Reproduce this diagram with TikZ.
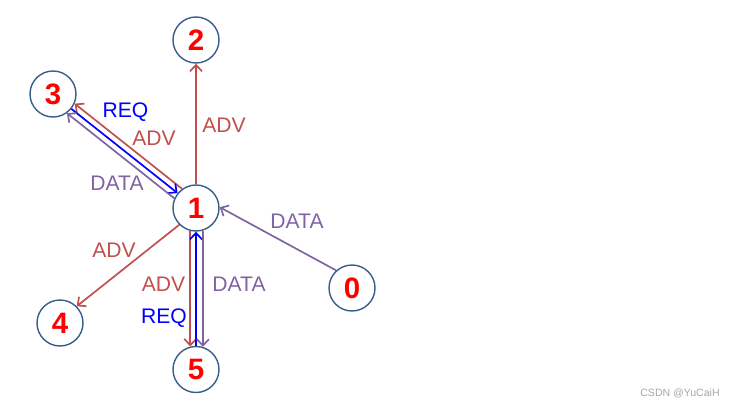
\documentclass[tikz,border=0pt]{standalone}
\usepackage{fontspec}
\setmainfont{Liberation Sans}
\usepackage{xcolor}
\usetikzlibrary{arrows.meta}

\definecolor{advred}{HTML}{C0504D}
\definecolor{datapurple}{HTML}{8064A2}
\definecolor{reqblue}{HTML}{0000FF}
\definecolor{ringblue}{HTML}{385D8A}

\begin{document}
\begin{tikzpicture}[
  peer/.style={circle, draw=ringblue, line width=1pt, minimum size=1.15cm, inner sep=0pt,
    text=red, font=\fontsize{21}{25}\selectfont\bfseries},
  msg/.style={line width=1.2pt, -{Straight Barb[length=1.6mm,width=3mm]}},
  lbl/.style={font=\fontsize{15}{18}\selectfont, inner sep=0pt}
]
\useasboundingbox (0,0) rectangle (18.45,10.15);

% peers
\node[peer] (n1) at (4.9,4.95) {1};
\node[peer] (n2) at (4.9,9.15) {2};
\node[peer] (n3) at (1.325,7.8) {3};
\node[peer] (n4) at (1.5,2.075) {4};
\node[peer] (n0) at (8.8,2.95) {0};
\node[peer] (n5) at (4.9,0.9125) {5};

% messages between 1 and 3
\draw[msg, advred] (n1.126) -- (n3.-24);
\draw[msg, reqblue] (n3.-39) -- (n1.141);
\draw[msg, datapurple] (n1.156) -- (n3.-54);

% messages between 1 and 5
\draw[msg, advred] (n1.256) -- (n5.104);
\draw[msg, reqblue] (n5.90) -- (n1.270);
\draw[msg, datapurple] (n1.287) -- (n5.73);

% other messages
\draw[msg, advred] (n1) -- (n2);
\draw[msg, advred] (n1.225) -- (n4.45);
\draw[msg, datapurple] (n0.132) -- (n1.2);

% labels
\node[lbl, text=reqblue] (req13) at (3.1375,7.35) {REQ};
\node[lbl, text=advred] (adv13) at (3.85,6.6875) {ADV};
\node[lbl, text=datapurple] (data13) at (2.925,5.5625) {DATA};
\node[lbl, text=advred] (adv12) at (5.6,7.025) {ADV};
\node[lbl, text=datapurple] (data01) at (7.425,4.625) {DATA};
\node[lbl, text=advred] (adv14) at (2.85,3.9) {ADV};
\node[lbl, text=advred] (adv15) at (4.0875,3.0375) {ADV};
\node[lbl, text=reqblue] (req15) at (4.1,2.1875) {REQ};
\node[lbl, text=datapurple] (data15) at (5.975,3.05) {DATA};

\node[font=\fontsize{7.5}{9}\selectfont, text=black!35] (wm) at (17.0,0.325) {CSDN @YuCaiH};
\end{tikzpicture}
\end{document}
